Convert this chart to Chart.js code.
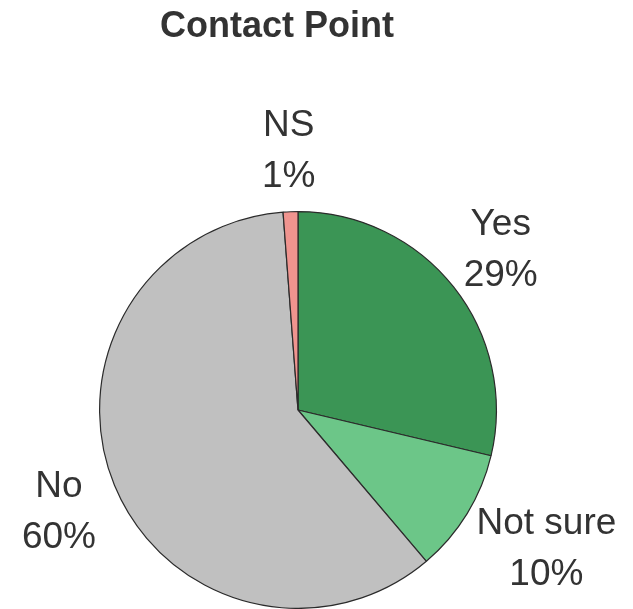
<!DOCTYPE html>
<html>
<head>
<meta charset="utf-8">
<script src="https://cdn.jsdelivr.net/npm/chart.js@4.4.0/dist/chart.umd.min.js"></script>
<style>
  html, body { margin: 0; padding: 0; background: #fff; }
  #wrap { width: 633px; height: 609px; }
</style>
</head>
<body>
<div id="wrap"><canvas id="pieChart" width="633" height="609"></canvas></div>
<script>
// Dane wykresu
const categories = ['Yes', 'Not sure', 'No', 'NS'];
const values = [28.7, 10.1, 60.0, 1.2];
const sliceColors = ['#3b9555', '#6cc688', '#c0c0c0', '#f0948f'];
const chartTitle = 'Contact Point';

const FONT = '"Liberation Sans", Arial, sans-serif';
const TEXT_COLOR = '#333333';

// Etykiety na zewnątrz wycinków + tytuł
const outsideLabels = {
    id: 'outsideLabels',
    afterDraw(chart) {
        const ctx = chart.ctx;
        const meta = chart.getDatasetMeta(0);
        const total = values.reduce((a, b) => a + b, 0);
        ctx.save();
        ctx.fillStyle = TEXT_COLOR;
        ctx.textAlign = 'center';
        ctx.textBaseline = 'alphabetic';

        // tytuł
        ctx.font = 'bold 36px ' + FONT;
        ctx.fillText(chartTitle, 277, 37);

        ctx.font = '37px ' + FONT;
        const lineH = 51;
        const capHalf = 13;
        meta.data.forEach((arc, i) => {
            const p = arc.getProps(['x', 'y', 'startAngle', 'endAngle', 'outerRadius'], true);
            const mid = (p.startAngle + p.endAngle) / 2;
            const dx = Math.cos(mid), dy = Math.sin(mid);
            const lines = [categories[i], Math.round(values[i] / total * 100) + '%'];
            const w = Math.max(...lines.map(t => ctx.measureText(t).width));
            const r = p.outerRadius + 23;
            const cx = p.x + dx * (r + w / 2);
            const cy = p.y + dy * (r + 40);
            ctx.fillText(lines[0], cx, cy - lineH / 2 + capHalf);
            ctx.fillText(lines[1], cx, cy + lineH / 2 + capHalf);
        });
        ctx.restore();
    }
};

const pieChart = new Chart(document.getElementById('pieChart').getContext('2d'), {
    type: 'pie',
    data: {
        labels: categories,
        datasets: [{
            data: values,
            backgroundColor: sliceColors,
            borderColor: '#2b2b2b',
            borderWidth: 1.2
        }]
    },
    options: {
        responsive: false,
        animation: false,
        layout: { padding: { left: 98, right: 135, top: 211, bottom: 0 } },
        plugins: {
            legend: { display: false },
            title: { display: false },
            tooltip: { enabled: false }
        }
    },
    plugins: [outsideLabels]
});
</script>
</body>
</html>
